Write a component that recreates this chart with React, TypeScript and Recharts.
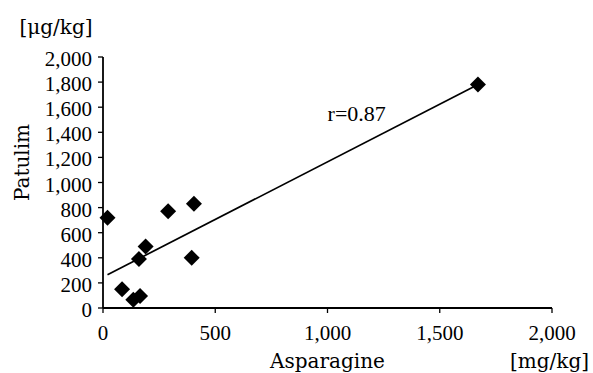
import React from "react"
import { ScatterChart, Scatter, XAxis, YAxis, Label, ReferenceDot } from "recharts"

// values
const asparagine = [20, 85, 135, 165, 160, 190, 290, 405, 395, 1670]
const patulin = [720, 150, 65, 95, 390, 490, 770, 830, 400, 1780]
const fitX = [20, 1660]
const fitY = [265, 1770]
const xTicks = [0, 500, 1000, 1500, 2000]
const yTicks = [0, 200, 400, 600, 800, 1000, 1200, 1400, 1600, 1800, 2000]

const points = asparagine.map((x, i) => ({ x, y: patulin[i] }))
const fit = fitX.map((x, i) => ({ x, y: fitY[i] }))

const serif = "'Liberation Serif', 'Times New Roman', serif"
const titleFont = { fontFamily: "'DejaVu Serif', serif", fontSize: 20, fill: "#000" }

const fmt = (v: number) => v.toLocaleString("en-US")

function Diamond(props: any) {
  const { cx, cy } = props
  const s = 8
  return (
    <polygon points={`${cx},${cy - s} ${cx + s},${cy} ${cx},${cy + s} ${cx - s},${cy}`} fill="#000" stroke="none" />
  )
}

const renderXTick = (props: any) => (
  <text x={props.x} y={props.y + 22} textAnchor="middle" style={{ fontFamily: serif, fontSize: 21 }} fill="#000">
    {fmt(props.payload.value)}
  </text>
)

const renderYTick = (props: any) => (
  <text x={props.x} y={props.y + 9} textAnchor="end" style={{ fontFamily: serif, fontSize: 21 }} fill="#000">
    {fmt(props.payload.value)}
  </text>
)

function XTitle(props: any) {
  const { x, y, width } = props.viewBox
  return (
    <g>
      <text x={x + width / 2} y={y + 60} textAnchor="middle" {...titleFont}>Asparagine</text>
      <text x={x + width - 42} y={y + 60} textAnchor="start" {...titleFont}>[mg/kg]</text>
    </g>
  )
}

function YTitle(props: any) {
  const { y, height } = props.viewBox
  const cy = y + height / 2 - 20
  return (
    <g>
      <text x={56} y={34} textAnchor="middle" {...titleFont}>[μg/kg]</text>
      <text x={29} y={cy} textAnchor="middle" transform={`rotate(-90 29 ${cy})`} {...titleFont}>Patulim</text>
    </g>
  )
}

export default function App() {
  return (
    <div style={{ position: "absolute", left: 0, top: 0, background: "#fff", fontFamily: serif }}>
      <ScatterChart width={593} height={373} margin={{ top: 57, right: 41, bottom: 0, left: 0 }}>
        <XAxis
          type="number"
          dataKey="x"
          domain={[0, 2000]}
          ticks={xTicks}
          height={65}
          tick={renderXTick}
          tickSize={5}
          tickMargin={5}
          axisLine={{ stroke: "#000", strokeWidth: 1.8 }}
          tickLine={{ stroke: "#000", strokeWidth: 1.3 }}
        >
          <Label content={<XTitle />} />
        </XAxis>
        <YAxis
          type="number"
          dataKey="y"
          domain={[0, 2000]}
          ticks={yTicks}
          width={103}
          tick={renderYTick}
          tickSize={5}
          tickMargin={6}
          interval={0}
          axisLine={{ stroke: "#000", strokeWidth: 1.8 }}
          tickLine={{ stroke: "#000", strokeWidth: 1.3 }}
        >
          <Label content={<YTitle />} />
        </YAxis>
        <Scatter
          data={fit}
          line={{ stroke: "#000", strokeWidth: 1.7 }}
          shape={() => <g />}
          isAnimationActive={false}
        />
        <Scatter data={points} shape={<Diamond />} isAnimationActive={false} />
        <ReferenceDot
          x={1130}
          y={1550}
          r={0}
          fill="none"
          stroke="none"
          label={{ value: "r=0.87", position: "center", fontFamily: serif, fontSize: 22, fill: "#000" }}
        />
      </ScatterChart>
    </div>
  )
}
